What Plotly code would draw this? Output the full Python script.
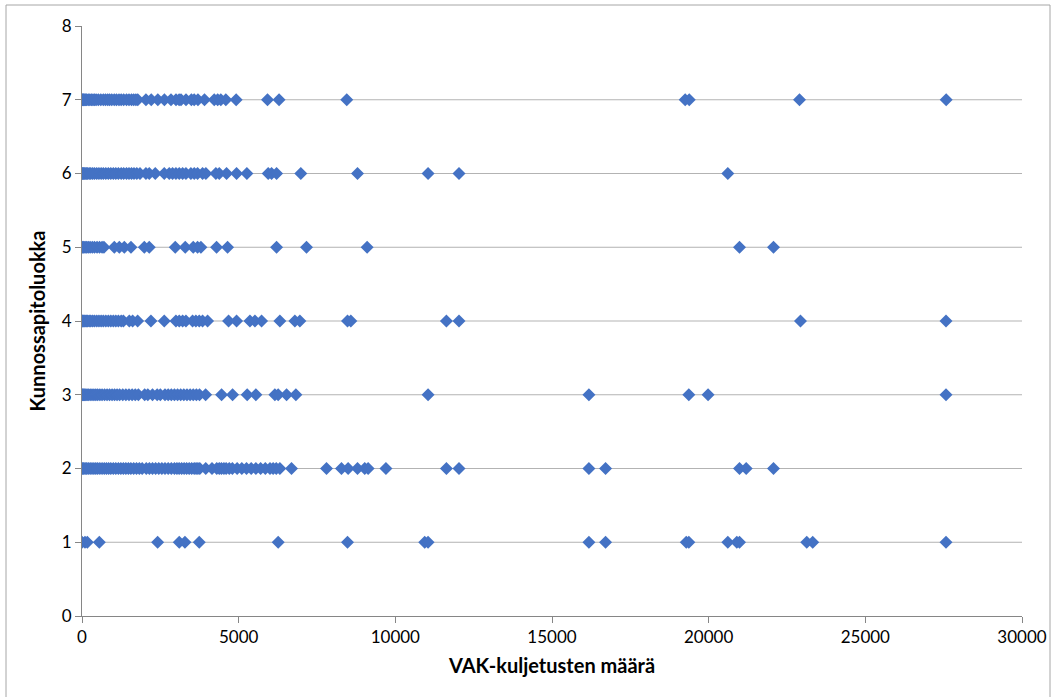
import plotly.graph_objects as go

# VAK-kuljetusten määrä per kunnossapitoluokka (luettu kuvasta)
luokka_1 = [0, 96, 170, 553, 2413, 3104, 3285, 3742, 6262, 8473, 10938, 11045,
            16178, 16710, 19284, 19367, 20611, 20898, 20984, 23130, 23321, 27575]

luokka_2 = [0, 30, 60, 100, 150, 200, 260, 320, 380, 440, 500, 570, 640, 710,
            780, 850, 920, 1000, 1080, 1160, 1240, 1320, 1400, 1480, 1560, 1650,
            1740, 1830, 1920, 2050, 2150, 2250, 2350, 2450, 2550, 2650, 2750,
            2850, 2950, 3030, 3100, 3180, 3260, 3340, 3420, 3500, 3580, 3640,
            3700, 3760, 3950, 4150, 4300, 4380, 4450, 4530, 4600, 4700, 4800,
            4950, 5100, 5250, 5400, 5550, 5700, 5850, 6000, 6100, 6200, 6315,
            6687, 7803, 8281, 8494, 8792, 9025, 9131, 9700, 11630, 12033,
            16178, 16710, 20984, 21197, 22069]

luokka_3 = [0, 20, 50, 80, 120, 160, 200, 260, 320, 380, 440, 500, 570, 640,
            720, 800, 880, 960, 1040, 1120, 1200, 1300, 1400, 1500, 1600, 1700,
            1800, 2000, 2100, 2250, 2400, 2500, 2650, 2750, 2850, 2950, 3050,
            3150, 3250, 3350, 3450, 3550, 3650, 3750, 3945, 4455, 4805, 5272,
            5549, 6155, 6262, 6528, 6825, 11045, 16178, 19367, 19980, 27575]

luokka_4 = [0, 20, 40, 70, 100, 140, 180, 230, 280, 340, 400, 470, 540, 610,
            680, 760, 840, 920, 1000, 1080, 1160, 1250, 1320, 1510, 1616, 1775,
            2200, 2625, 2998, 3104, 3211, 3317, 3529, 3635, 3742, 3848, 4008,
            4677, 4933, 5360, 5520, 5730, 6315, 6793, 6953, 8473, 8579, 11630,
            12033, 22930, 27575]

luokka_5 = [0, 30, 60, 100, 150, 200, 260, 330, 400, 480, 560, 640, 700, 1031,
            1190, 1350, 1563, 1988, 2147, 2976, 3295, 3551, 3689, 3795, 4295,
            4645, 6209, 7166, 9099, 20984, 22069]

luokka_6 = [0, 20, 40, 70, 100, 140, 180, 230, 280, 340, 400, 470, 540, 610,
            680, 760, 840, 920, 1000, 1080, 1160, 1250, 1330, 1420, 1500, 1580,
            1660, 1750, 1850, 2041, 2147, 2338, 2625, 2785, 2891, 2998, 3104,
            3211, 3317, 3476, 3582, 3689, 3848, 3954, 4273, 4380, 4614, 4933,
            5262, 5942, 6049, 6209, 6984, 8792, 11045, 12033, 20611]

luokka_7 = [0, 20, 40, 60, 90, 120, 150, 200, 250, 300, 350, 400, 450, 520,
            600, 680, 750, 820, 880, 950, 1030, 1100, 1180, 1250, 1330, 1420,
            1500, 1580, 1650, 1720, 1780, 2040, 2210, 2420, 2630, 2840, 3000,
            3100, 3160, 3320, 3490, 3580, 3700, 3910, 4220, 4330, 4430, 4590,
            4920, 5920, 6290, 8450, 19250, 19380, 22900, 27580]

luokat = {1: luokka_1, 2: luokka_2, 3: luokka_3, 4: luokka_4,
          5: luokka_5, 6: luokka_6, 7: luokka_7}

x_ticks = [0, 5000, 10000, 15000, 20000, 25000, 30000]
y_ticks = [0, 1, 2, 3, 4, 5, 6, 7, 8]

xs, ys = [], []
for luokka, arvot in luokat.items():
    xs += arvot
    ys += [luokka] * len(arvot)

fig = go.Figure()
fig.add_trace(go.Scatter(
    x=xs, y=ys, mode='markers',
    marker=dict(symbol='diamond', size=10, color='#4472C4',
                line=dict(width=0)),
    showlegend=False, hoverinfo='x+y'
))

# gridlines 1..7 only (no line at top)
for v in y_ticks[1:-1]:
    fig.add_hline(y=v, line=dict(color='#B3B3B3', width=1), layer='below')

axis_font = dict(family='Lato, Open Sans, sans-serif', size=17, color='#000000')
title_font = dict(family='Lato, Open Sans, sans-serif', size=20, color='#000000')

fig.update_layout(
    width=1059, height=697,
    margin=dict(l=82, r=37, t=26, b=81),
    paper_bgcolor='white', plot_bgcolor='white',
    xaxis=dict(
        range=[0, 30000], tickvals=x_ticks, ticktext=[str(t) for t in x_ticks],
        showgrid=False, zeroline=False, automargin=False,
        showline=True, linecolor='#868686', linewidth=1,
        ticks='outside', ticklen=6, tickcolor='#868686',
        tickfont=axis_font,
        title=dict(text='<b>VAK-kuljetusten määrä</b>', font=title_font, standoff=12),
    ),
    yaxis=dict(
        range=[0, 8], tickvals=y_ticks,
        showgrid=False, zeroline=False, automargin=False,
        showline=True, linecolor='#868686', linewidth=1,
        ticks='outside', ticklen=6, tickcolor='#868686',
        tickfont=axis_font,
        title=dict(text='<b>Kunnossapitoluokka</b>', font=title_font, standoff=10),
    ),
)

# chart area frame
fig.add_shape(type='rect', xref='paper', yref='paper',
              x0=(6 - 82) / 940, x1=(1050 - 82) / 940,
              y0=(616 - 700) / 590, y1=(616 - 5) / 590,
              line=dict(color='#A6A6A6', width=1), fillcolor='rgba(0,0,0,0)',
              layer='below')

# page body margin off so the figure sits at the window corner
fig.write_html("out.html", config={'displayModeBar': False},
               post_script="document.body.style.margin='0';")
